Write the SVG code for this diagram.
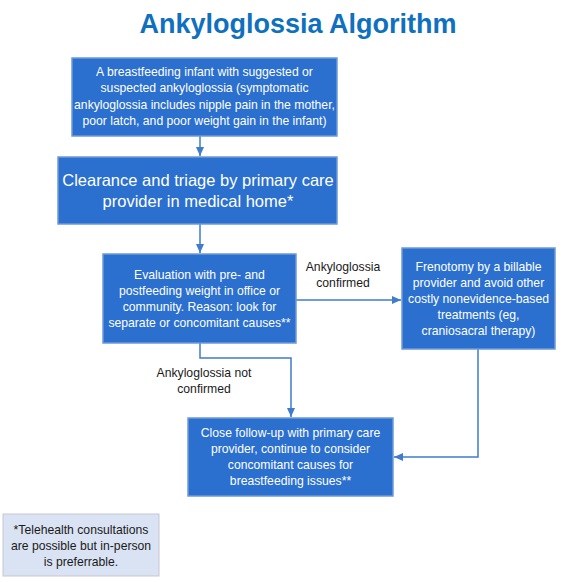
<svg xmlns="http://www.w3.org/2000/svg" width="564" height="582" viewBox="0 0 564 582">
<style>
.box{fill:#2b6fcf;stroke:#6f9ad8;stroke-width:1.5}
.t{font-family:"Liberation Sans",Arial,sans-serif;fill:#ffffff;text-anchor:middle;font-size:12.2px}
.big{font-size:16.5px}
.lbl{font-family:"Liberation Sans",Arial,sans-serif;fill:#1a1a1a;text-anchor:middle;font-size:12.2px}
.con{fill:none;stroke:#3f7ccc;stroke-width:1.5}
.note{fill:#dae3f3;stroke:#c4c8d0;stroke-width:1}
</style>
<defs>
<marker id="ah" markerWidth="10" markerHeight="10" refX="9" refY="5" orient="auto" markerUnits="userSpaceOnUse">
<path d="M0,1 L9,5 L0,9 Z" fill="#3f7ccc"/>
</marker>
</defs>
<rect width="564" height="582" fill="#ffffff"/>
<text x="298" y="33" font-family="Liberation Sans,Arial,sans-serif" font-weight="bold" font-size="27" fill="#0f70c0" text-anchor="middle">Ankyloglossia Algorithm</text>
<g id="connectors">
<path class="con" d="M200,136 V156" marker-end="url(#ah)"/>
<path class="con" d="M200,224 V253" marker-end="url(#ah)"/>
<path class="con" d="M296,300 H401" marker-end="url(#ah)"/>
<path class="con" d="M200,343 V358 H291 V417" marker-end="url(#ah)"/>
<path class="con" d="M478,349 V457 H394" marker-end="url(#ah)"/>
</g>
<g id="labels">
<text class="lbl" x="343" y="271">Ankyloglossia</text>
<text class="lbl" x="343" y="287">confirmed</text>
<text class="lbl" x="204" y="377">Ankyloglossia not</text>
<text class="lbl" x="204" y="393">confirmed</text>
</g>
<g id="n1">
<rect class="box" x="72" y="58" width="265" height="78"/>
<text class="t" x="204.5" y="76">A breastfeeding infant with suggested or</text>
<text class="t" x="204.5" y="92">suspected ankyloglossia (symptomatic</text>
<text class="t" x="204.5" y="108.5">ankyloglossia includes nipple pain in the mother,</text>
<text class="t" x="204.5" y="124.5">poor latch, and poor weight gain in the infant)</text>
</g>
<g id="n2">
<rect class="box" x="58" y="157" width="279" height="67"/>
<text class="t big" x="198" y="186">Clearance and triage by primary care</text>
<text class="t big" x="198" y="207">provider  in medical home*</text>
</g>
<g id="n3">
<rect class="box" x="103" y="254" width="193" height="89"/>
<text class="t" x="199.5" y="279">Evaluation with pre- and</text>
<text class="t" x="199.5" y="295">postfeeding weight in office or</text>
<text class="t" x="199.5" y="311">community. Reason: look for</text>
<text class="t" x="199.5" y="327">separate or concomitant causes**</text>
</g>
<g id="n4">
<rect class="box" x="402" y="248" width="153" height="101"/>
<text class="t" x="478.5" y="271">Frenotomy by a billable</text>
<text class="t" x="478.5" y="287">provider and avoid other</text>
<text class="t" x="478.5" y="303">costly nonevidence-based</text>
<text class="t" x="478.5" y="319">treatments (eg,</text>
<text class="t" x="478.5" y="335">craniosacral therapy)</text>
</g>
<g id="n5">
<rect class="box" x="188" y="418" width="205" height="78"/>
<text class="t" x="290.5" y="437">Close follow-up with primary care</text>
<text class="t" x="290.5" y="453">provider, continue to consider</text>
<text class="t" x="290.5" y="469">concomitant causes for</text>
<text class="t" x="290.5" y="485">breastfeeding issues**</text>
</g>
<g id="footnote">
<rect class="note" x="3" y="514" width="156" height="62"/>
<text class="lbl" x="81" y="534">*Telehealth consultations</text>
<text class="lbl" x="81" y="550">are possible but in-person</text>
<text class="lbl" x="81" y="566">is preferrable.</text>
</g>
</svg>
